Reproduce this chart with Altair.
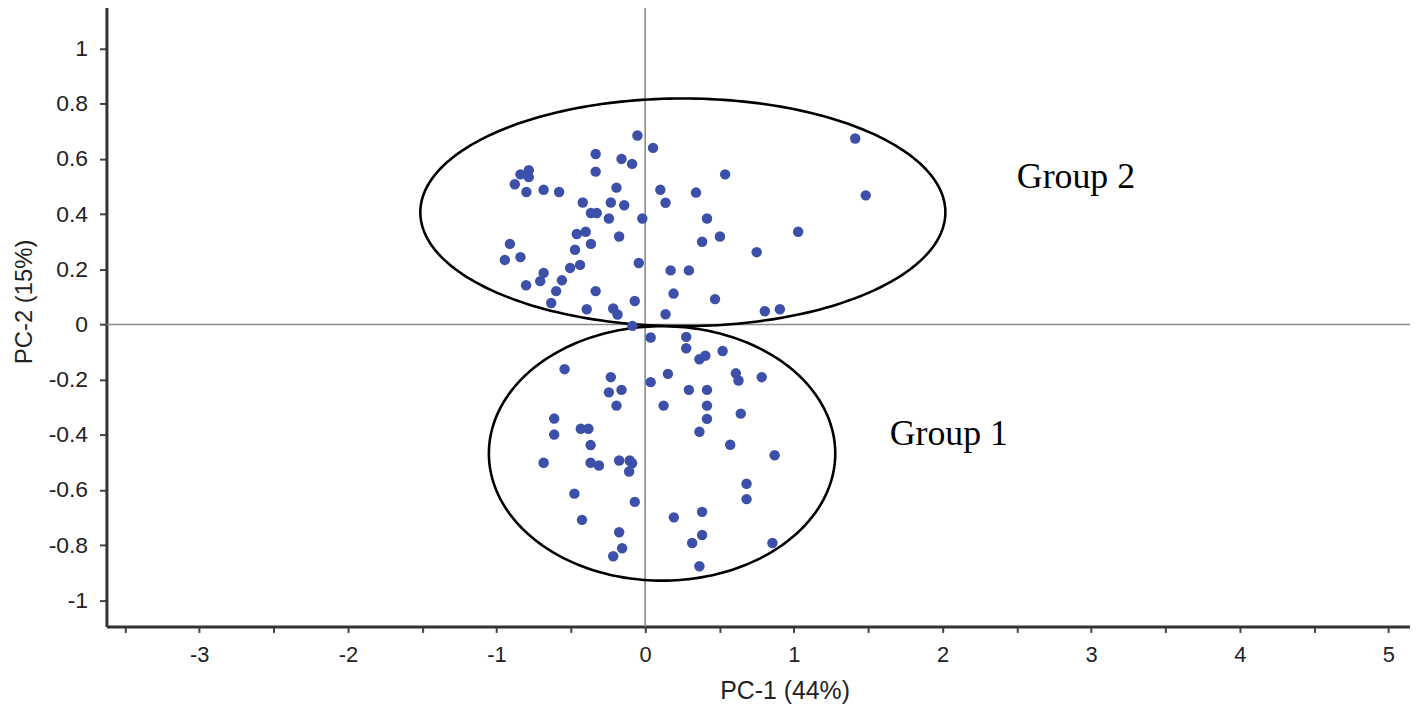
import numpy as np
import pandas as pd
import altair as alt

# ---- scores (PC-1, PC-2) ----
g2_x = [-0.052, 0.053, -0.333, -0.159, -0.088, -0.333, -0.839, -0.783, -0.783, -0.877,
        -0.799, -0.683, -0.579, -0.193, 0.102, 0.137, -0.420, -0.231, -0.141, -0.365,
        -0.326, -0.244, -0.019, -0.460, -0.400, -0.175, -0.910, -0.365, -0.472, -0.944,
        -0.839, -0.043, -0.505, -0.438, -0.683, -0.706, -0.560, -0.801, -0.599, -0.333,
        -0.632, -0.070, -0.393, -0.215, -0.186, 0.137, 0.342, 0.171, 0.294, 0.191,
        1.413, 1.484, 0.538, 0.416, 0.503, 0.383, 1.029, 0.750, 0.470, 0.805, 0.906]
g2_y = [0.685, 0.640, 0.618, 0.600, 0.582, 0.554, 0.544, 0.559, 0.534, 0.508,
        0.480, 0.488, 0.480, 0.496, 0.488, 0.441, 0.442, 0.442, 0.432, 0.404,
        0.404, 0.384, 0.384, 0.328, 0.336, 0.319, 0.292, 0.292, 0.271, 0.234,
        0.244, 0.223, 0.205, 0.216, 0.187, 0.157, 0.160, 0.142, 0.121, 0.121,
        0.078, 0.085, 0.055, 0.058, 0.036, 0.037, 0.478, 0.196, 0.196, 0.112,
        0.674, 0.468, 0.544, 0.384, 0.319, 0.300, 0.336, 0.262, 0.092, 0.048, 0.055]

g1_x = [-0.086, 0.037, 0.276, 0.276, 0.365, 0.405, 0.521, -0.542, -0.231, 0.153,
        0.610, 0.628, 0.784, 0.037, -0.244, -0.159, 0.294, 0.416, -0.193, 0.124,
        0.416, 0.416, 0.643, -0.612, -0.612, -0.433, -0.382, 0.365, -0.367, 0.572,
        0.871, -0.683, -0.367, -0.311, -0.175, -0.104, -0.088, -0.108, 0.682, 0.682,
        -0.476, -0.070, 0.383, 0.193, -0.425, -0.175, 0.383, 0.316, 0.856, -0.155,
        -0.215, 0.365]
g1_y = [-0.005, -0.047, -0.045, -0.086, -0.126, -0.113, -0.096, -0.162, -0.191, -0.179,
        -0.177, -0.203, -0.191, -0.209, -0.246, -0.237, -0.237, -0.237, -0.294, -0.294,
        -0.294, -0.342, -0.323, -0.341, -0.399, -0.378, -0.378, -0.389, -0.437, -0.436,
        -0.474, -0.501, -0.501, -0.511, -0.493, -0.493, -0.503, -0.533, -0.577, -0.633,
        -0.613, -0.643, -0.679, -0.699, -0.708, -0.753, -0.763, -0.792, -0.792, -0.811,
        -0.840, -0.876]

# ---- group ellipses (centre and semi-axes, data units) ----
ell_names = ["Group 2", "Group 1"]
ell_cx = [0.2535, 0.1137]
ell_cy = [0.4065, -0.4674]
ell_rx = [1.766, 1.165]
ell_ry = [0.4126, 0.461]

# ---- group labels ----
label_text = ["Group 2", "Group 1"]
label_x = [2.50, 1.645]
label_y = [0.495, -0.435]

# ---- axis ticks ----
x_ticks = [round(-3.5 + 0.5 * i, 1) for i in range(18)]
y_ticks = [round(-1.0 + 0.1 * i, 1) for i in range(22)]

x_dom = [-3.624, 5.145]
y_dom = [-1.0944, 1.1686]

pts = pd.DataFrame({
    "pc1": g2_x + g1_x,
    "pc2": g2_y + g1_y,
    "group": ["Group 2"] * len(g2_x) + ["Group 1"] * len(g1_x),
})

rows = []
t = np.linspace(0, 2 * np.pi, 241)
for name, cx, cy, rx, ry in zip(ell_names, ell_cx, ell_cy, ell_rx, ell_ry):
    for i, a in enumerate(t):
        rows.append({"group": name, "i": i,
                     "pc1": cx + rx * np.cos(a), "pc2": cy + ry * np.sin(a)})
ell = pd.DataFrame(rows)

labels = pd.DataFrame({"text": label_text, "pc1": label_x, "pc2": label_y})

MINUS = "\u2212"
x_axis = alt.Axis(
    values=x_ticks, format=".1~f",
    labelExpr=f"datum.value % 1 == 0 ? replace(datum.label, '{MINUS}', '-') : ''",
    grid=False, domainColor="#333333", domainWidth=3, tickColor="#444444",
    tickWidth=2, tickSize=6, labelPadding=12, labelFont="Liberation Sans",
    labelFontSize=22, labelColor="#222222", labelFlush=False, labelOverlap=False,
    title="PC-1 (44%)", titleFont="Liberation Sans", titleFontSize=25,
    titleFontWeight="normal", titleColor="#222222", titleX=682, titleY=64,
    titleAlign="center", titleBaseline="middle",
)
y_axis = alt.Axis(
    values=y_ticks, format=".1~f",
    labelExpr=f"abs(round(datum.value * 10)) % 2 == 0 ? replace(datum.label, '{MINUS}', '-') : ''",
    grid=False, domainColor="#333333", domainWidth=3, tickColor="#444444",
    tickWidth=2, tickSize=7, labelPadding=12, labelFont="Liberation Sans",
    labelFontSize=23, labelColor="#222222", labelFlush=False, labelOverlap=False,
    title="PC-2 (15%)", titleFont="Liberation Sans", titleFontSize=24,
    titleFontWeight="normal", titleColor="#222222", titleX=-75, titleY=301,
    titleAlign="center", titleBaseline="alphabetic", titleAngle=-90,
)

xs = alt.Scale(domain=x_dom, nice=False, zero=False)
ys = alt.Scale(domain=y_dom, nice=False, zero=False)

base_pts = alt.Chart(pts).mark_circle(size=110, color="#3c50aa", opacity=1).encode(
    x=alt.X("pc1:Q", scale=xs, axis=x_axis),
    y=alt.Y("pc2:Q", scale=ys, axis=y_axis),
)

zero_v = alt.Chart(pd.DataFrame({"pc1": [0.0]})).mark_rule(
    color="#8a8a8a", strokeWidth=1.6).encode(x=alt.X("pc1:Q", scale=xs))
zero_h = alt.Chart(pd.DataFrame({"pc2": [0.0]})).mark_rule(
    color="#8a8a8a", strokeWidth=1.6).encode(y=alt.Y("pc2:Q", scale=ys))

ellipses = alt.Chart(ell).mark_line(color="black", strokeWidth=2.6).encode(
    x=alt.X("pc1:Q", scale=xs),
    y=alt.Y("pc2:Q", scale=ys),
    detail="group:N",
    order="i:Q",
)

texts = alt.Chart(labels).mark_text(
    font="Liberation Serif", fontSize=36, color="black", align="left",
    baseline="alphabetic").encode(
    x=alt.X("pc1:Q", scale=xs),
    y=alt.Y("pc2:Q", scale=ys),
    text="text:N",
)

chart = alt.layer(zero_v, zero_h, ellipses, base_pts, texts).properties(
    width=1311, height=628,
    padding={"left": 99, "top": -8, "right": 0, "bottom": 78},
    autosize=alt.AutoSizeParams(type="none"),
    background="white",
).configure_view(stroke=None)

chart.save("out.html", embed_options={"renderer": "svg", "actions": False})
